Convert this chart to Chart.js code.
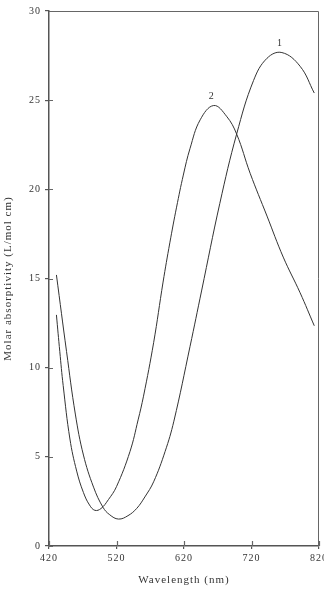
<!DOCTYPE html>
<html>
<head>
<meta charset="utf-8">
<script src="https://cdn.jsdelivr.net/npm/chart.js@4.4.0/dist/chart.umd.min.js"></script>
<style>
  html, body { margin: 0; padding: 0; background: #fff; }
</style>
</head>
<body>
<canvas id="myChart" width="324" height="590"></canvas>
<script>
// Valores: longitud de onda (nm) y absortividad molar
var wavelength1 = [431, 446, 459, 471, 486, 500, 510, 523, 537, 550, 562, 575, 592, 605, 629, 646, 673, 698, 723, 743, 765, 792, 813];
var absorptivity1 = [15.2, 10.9, 7.4, 5.1, 3.3, 2.17, 1.75, 1.51, 1.7, 2.11, 2.75, 3.6, 5.3, 7.0, 11.2, 14.3, 19.2, 23.1, 26.1, 27.35, 27.67, 26.9, 25.4];
var wavelength2 = [431, 436, 441, 451, 461, 471, 480, 488, 497, 508, 520, 540, 552, 560, 575, 589, 599, 609, 619, 629, 644, 664, 683, 698, 718, 743, 767, 792, 813];
var absorptivity2 = [12.96, 10.9, 9.0, 6.0, 4.2, 3.0, 2.3, 2.0, 2.1, 2.6, 3.33, 5.3, 7.07, 8.4, 11.4, 14.8, 17.0, 19.0, 20.8, 22.3, 23.9, 24.7, 24.1, 23.1, 20.9, 18.5, 16.2, 14.2, 12.35];
var seriesLabels = ['1', '2'];
var xTicks = [420, 520, 620, 720, 820];
var yTicks = [0, 5, 10, 15, 20, 25, 30];

function toPoints(xs, ys) {
    return xs.map(function(x, i) { return {x: x, y: ys[i]}; });
}

var serif = 'Liberation Serif, Times New Roman, serif';

// Espaciado de letras como en la figura original
var spacingPlugin = {
    id: 'spacing',
    beforeLayout: function(chart) { chart.ctx.letterSpacing = '1px'; },
    beforeDraw: function(chart) { chart.ctx.letterSpacing = '1px'; }
};

// Marco, marcas hacia dentro y etiquetas de las curvas
var framePlugin = {
    id: 'frame',
    afterDatasetsDraw: function(chart) {
        var ctx = chart.ctx;
        var a = chart.chartArea;
        var xs = chart.scales.x, ys = chart.scales.y;
        ctx.save();
        ctx.strokeStyle = '#666';
        ctx.lineWidth = 1;
        ctx.beginPath();
        ctx.moveTo(a.left, a.top + 0.5);
        ctx.lineTo(a.right - 0.5, a.top + 0.5);
        ctx.lineTo(a.right - 0.5, a.bottom);
        ctx.stroke();
        ctx.lineWidth = 1.2;
        ctx.beginPath();
        xTicks.forEach(function(v) {
            var px = Math.round(xs.getPixelForValue(v)) + 0.5;
            ctx.moveTo(px, a.bottom);
            ctx.lineTo(px, a.bottom - 5);
        });
        yTicks.forEach(function(v) {
            var py = Math.round(ys.getPixelForValue(v)) + 0.5;
            ctx.moveTo(a.left, py);
            ctx.lineTo(a.left + 4, py);
        });
        ctx.stroke();

        ctx.fillStyle = '#333';
        ctx.font = '10px ' + serif;
        ctx.textAlign = 'center';
        ctx.textBaseline = 'bottom';
        chart.data.datasets.forEach(function(ds) {
            var top = ds.data[0];
            ds.data.forEach(function(p) { if (p.y > top.y) top = p; });
            ctx.fillText(ds.label, xs.getPixelForValue(top.x) - 2, ys.getPixelForValue(top.y) - 4);
        });
        ctx.restore();
    }
};

var ctx = document.getElementById('myChart').getContext('2d');
var myChart = new Chart(ctx, {
    type: 'line',
    data: {
        datasets: [{
            label: seriesLabels[0],
            data: toPoints(wavelength1, absorptivity1),
            borderColor: '#333',
            borderWidth: 1,
            pointRadius: 0,
            tension: 0.4,
            fill: false
        }, {
            label: seriesLabels[1],
            data: toPoints(wavelength2, absorptivity2),
            borderColor: '#333',
            borderWidth: 1,
            pointRadius: 0,
            tension: 0.4,
            fill: false
        }]
    },
    options: {
        responsive: false,
        animation: false,
        layout: { padding: { left: 0, right: 5, top: 11, bottom: 0 } },
        plugins: {
            legend: { display: false },
            tooltip: { enabled: false }
        },
        scales: {
            x: {
                type: 'linear',
                min: 420,
                max: 820,
                afterBuildTicks: function(scale) {
                    scale.ticks = xTicks.map(function(v) { return {value: v}; });
                },
                afterFit: function(scale) {
                    scale.height = 44;
                    scale.paddingLeft = 0;
                    scale.paddingRight = 0;
                },
                grid: { drawOnChartArea: false, drawTicks: true, tickLength: 3, color: '#555', lineWidth: 1.2 },
                border: { color: '#555', width: 1.5 },
                ticks: {
                    maxRotation: 0,
                    padding: 3,
                    color: '#333',
                    font: { family: serif, size: 10 }
                },
                title: {
                    display: true,
                    text: 'Wavelength (nm)',
                    color: '#333',
                    font: { family: serif, size: 11 },
                    padding: { top: 0, bottom: 3 }
                }
            },
            y: {
                min: 0,
                max: 30,
                afterBuildTicks: function(scale) {
                    scale.ticks = yTicks.map(function(v) { return {value: v}; });
                },
                afterFit: function(scale) {
                    scale.width = 49;
                    scale.paddingTop = 0;
                    scale.paddingBottom = 0;
                },
                grid: { drawOnChartArea: false, drawTicks: true, tickLength: 4, color: '#555', lineWidth: 1.2 },
                border: { color: '#555', width: 1.5 },
                ticks: {
                    padding: 4,
                    color: '#333',
                    font: { family: serif, size: 10 }
                },
                title: {
                    display: true,
                    text: 'Molar absorptivity (L/mol cm)',
                    color: '#333',
                    font: { family: serif, size: 11 },
                    padding: { top: 2, bottom: 0 }
                }
            }
        }
    },
    plugins: [spacingPlugin, framePlugin]
});
</script>
</body>
</html>
